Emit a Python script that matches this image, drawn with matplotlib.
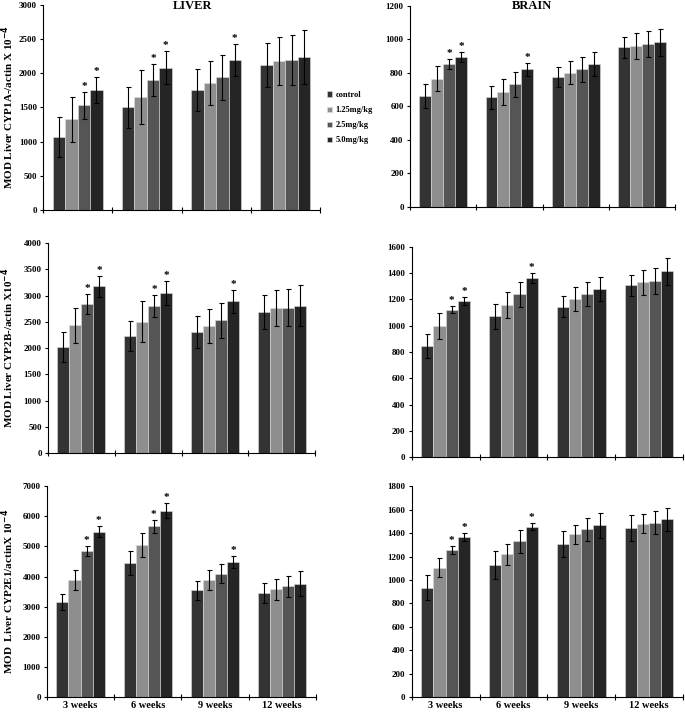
#!/usr/bin/env python3

import numpy as np
import matplotlib.pyplot as plt

plt.rcParams['font.family'] = ['Liberation Serif', 'DejaVu Serif']
plt.rcParams['font.weight'] = 'bold'

weeks = ["3 weeks", "6 weeks", "9 weeks", "12 weeks"]
doses = ["control", "1.25mg/kg", "2.5mg/kg", "5.0mg/kg"]
colors = ["#333333", "#8e8e8e", "#555555", "#252525"]

# means per dose (rows) for each week (columns), error bars, and significance marks
liver_1a = [[1070, 1500, 1760, 2120], [1325, 1650, 1860, 2180], [1530, 1905, 1940, 2200], [1755, 2085, 2200, 2240]]
liver_1a_err = [[290, 300, 310, 325], [330, 395, 320, 350], [195, 230, 335, 365], [190, 245, 235, 400]]
brain_1a = [[662, 654, 777, 952], [765, 686, 802, 962], [852, 733, 822, 972], [897, 822, 852, 982]]
brain_1a_err = [[70, 70, 60, 64], [74, 78, 68, 76], [30, 74, 74, 76], [30, 38, 72, 80]]
liver_2b = [[2020, 2230, 2310, 2690], [2430, 2500, 2420, 2760], [2840, 2800, 2530, 2770], [3180, 3050, 2890, 2810]]
liver_2b_err = [[285, 290, 300, 320], [330, 390, 330, 340], [190, 210, 330, 350], [200, 220, 220, 390]]
brain_2b = [[845, 1071, 1145, 1307], [997, 1160, 1206, 1332], [1122, 1239, 1244, 1340], [1190, 1363, 1282, 1414]]
brain_2b_err = [[90, 94, 80, 80], [100, 100, 90, 95], [28, 95, 90, 100], [30, 38, 90, 100]]
liver_2e1 = [[3145, 4452, 3544, 3455], [3898, 5061, 3898, 3577], [4850, 5670, 4097, 3677], [5493, 6190, 4485, 3765]]
liver_2e1_err = [[265, 400, 310, 320], [330, 400, 330, 355], [180, 220, 320, 355], [190, 245, 210, 410]]
brain_2e1 = [[934, 1128, 1308, 1444], [1105, 1219, 1390, 1481], [1259, 1330, 1433, 1490], [1365, 1456, 1467, 1518]]
brain_2e1_err = [[105, 117, 111, 114], [83, 90, 83, 83], [34, 97, 100, 97], [34, 31, 108, 97]]

# (dose index, week index) pairs marked with *
stars_liver = [(2, 0), (3, 0), (2, 1), (3, 1), (3, 2)]
stars_brain = [(2, 0), (3, 0), (3, 1)]

panels = [
    # data, err, stars, ymax, ystep, position, ylabel
    (liver_1a, liver_1a_err, stars_liver, 3000, 500, [0.063, 0.7055, 0.404, 0.2875],
     "MOD Liver CYP1A-/actin X 10$^{\\mathbf{-4}}$"),
    (brain_1a, brain_1a_err, stars_brain, 1200, 200, [0.5985, 0.7097, 0.387, 0.282], None),
    (liver_2b, liver_2b_err, stars_liver, 4000, 500, [0.070, 0.3647, 0.390, 0.2943],
     "MOD Liver CYP2B-/actin X10$^{\\mathbf{-4}}$"),
    (brain_2b, brain_2b_err, stars_brain, 1600, 200, [0.601, 0.359, 0.396, 0.2946], None),
    (liver_2e1, liver_2e1_err, stars_liver, 7000, 1000, [0.0686, 0.0224, 0.3924, 0.2956],
     "MOD  Liver CYP2E1/actinX 10$^{\\mathbf{-4}}$"),
    (brain_2e1, brain_2e1_err, stars_brain, 1800, 200, [0.601, 0.0224, 0.396, 0.2956], None),
]

fig = plt.figure(figsize=(6.85, 7.13), dpi=100)

x = np.arange(len(weeks))
width = 0.18
for i, (data, err, stars, ymax, ystep, pos, ylabel) in enumerate(panels):
    ax = fig.add_axes(pos)
    for d in range(len(doses)):
        xs = x + (d - 1.5) * width
        ax.bar(xs, data[d], width, color=colors[d], edgecolor="#dddddd", linewidth=0.4,
               label=doses[d], zorder=2)
        ax.errorbar(xs, data[d], yerr=err[d], fmt="none", ecolor="black",
                    elinewidth=0.8, capsize=1.8, capthick=0.8, zorder=3)
    for d, w in stars:
        top = data[d][w] + err[d][w]
        ax.text(x[w] + (d - 1.5) * width, top + ymax * 0.005, "*", ha="center", va="bottom",
                fontsize=8, fontweight="bold")

    ax.set_xlim(-0.5, 3.5)
    ax.set_ylim(0, ymax)
    ax.set_yticks(np.arange(0, ymax + 1, ystep))
    ax.set_xticks(np.arange(-0.5, 4, 1))
    ax.set_xticklabels([])
    if i >= 4:
        ax.set_xticks(x, minor=True)
        ax.set_xticklabels(weeks, minor=True, fontsize=7.5, fontweight="bold")
        ax.tick_params(axis="x", which="minor", length=0, pad=3)
    ax.tick_params(axis="x", which="major", direction="inout", length=5, width=0.8)
    ax.tick_params(axis="y", direction="out", length=2.5, width=0.8, labelsize=6.5, pad=2)
    for lab in ax.get_yticklabels():
        lab.set_fontweight("bold")
    for s in ["top", "right"]:
        ax.spines[s].set_visible(False)
    for s in ["left", "bottom"]:
        ax.spines[s].set_linewidth(0.8)
    if ylabel:
        ax.set_ylabel(ylabel, fontsize=8, fontweight="bold")
        ax.yaxis.set_label_coords(0.024, pos[1] + pos[3] / 2, transform=fig.transFigure)
    if i == 0:
        handles, labels = ax.get_legend_handles_labels()

fig.text(0.281, 0.992, "LIVER", ha="center", va="center", fontsize=9, fontweight="bold")
fig.text(0.777, 0.992, "BRAIN", ha="center", va="center", fontsize=9, fontweight="bold")

fig.legend(handles, labels, loc="upper left", bbox_to_anchor=(0.472, 0.877), frameon=False,
           fontsize=6, handlelength=0.6, handleheight=0.6, handletextpad=0.5, labelspacing=0.85,
           borderaxespad=0)

plt.savefig("out.png", dpi=100)
